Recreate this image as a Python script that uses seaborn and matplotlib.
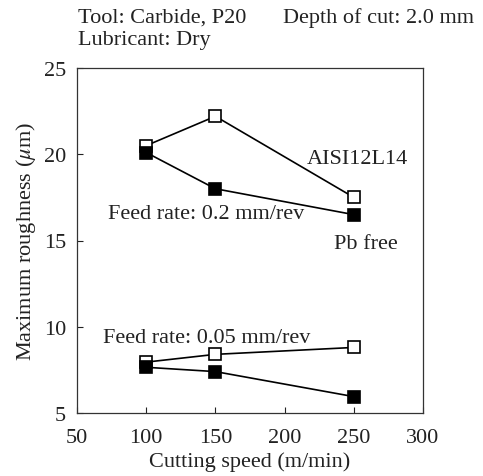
import matplotlib
matplotlib.use("Agg")
import matplotlib.pyplot as plt
import seaborn as sns
import pandas as pd

speeds = [100, 150, 250]
aisi_02 = [20.5, 22.2, 17.5]
pbfree_02 = [20.1, 18.0, 16.5]
aisi_005 = [7.95, 8.4, 8.8]
pbfree_005 = [7.65, 7.4, 5.95]
x_ticks = [50, 100, 150, 200, 250, 300]
y_ticks = [5, 10, 15, 20, 25]

sns.set_style("ticks")
plt.rcParams['font.family'] = ['Liberation Serif', 'DejaVu Serif']
plt.rcParams['mathtext.fontset'] = 'stix'

fig = plt.figure(figsize=(4.83, 4.77), dpi=100)
W, H = 483, 477
ax = fig.add_axes([77 / W, 1 - 414 / H, 346 / W, 345 / H])

series = [
    (aisi_02, "white"),
    (pbfree_02, "black"),
    (aisi_005, "white"),
    (pbfree_005, "black"),
]
for vals, fc in series:
    df = pd.DataFrame({"speed": speeds, "rough": vals})
    sns.lineplot(data=df, x="speed", y="rough", ax=ax, color="black",
                 linewidth=1.2, marker="s", markersize=8.5,
                 markerfacecolor=fc, markeredgecolor="black",
                 markeredgewidth=1.2)

fs = 16
tc = "#222222"
ax.set_xlim(50, 300)
ax.set_ylim(5, 25)
ax.set_xticks(x_ticks)
ax.set_yticks(y_ticks)
ax.tick_params(direction="in", length=4, width=0.8, labelsize=fs,
               colors="#222222", labelcolor=tc)
ax.tick_params(axis="x", pad=11)
ax.tick_params(axis="y", pad=8)
for s in ax.spines.values():
    s.set_linewidth(0.9)
    s.set_color("#333333")
ax.set_xlabel("Cutting speed (m/min)", fontsize=fs, color=tc, labelpad=3)
ax.set_ylabel(r"Maximum roughness ($\mu$m)", fontsize=fs, color=tc, labelpad=4)
for lbl in ax.get_yticklabels():
    lbl.set_verticalalignment("center_baseline")

ax.text(216, 19.75, "AISI12L14", fontsize=fs, color=tc, va="center", ha="left")
ax.text(236, 14.85, "Pb free", fontsize=fs, color=tc, va="center", ha="left")
ax.text(72.5, 16.55, "Feed rate: 0.2 mm/rev", fontsize=fs, color=tc, va="center", ha="left")
ax.text(68.8, 9.35, "Feed rate: 0.05 mm/rev", fontsize=fs, color=tc, va="center", ha="left")

fig.text(78 / W, 1 - 18 / H, "Tool: Carbide, P20", fontsize=fs, color=tc, va="center", ha="left")
fig.text(283 / W, 1 - 18 / H, "Depth of cut: 2.0 mm", fontsize=fs, color=tc, va="center", ha="left")
fig.text(78 / W, 1 - 40 / H, "Lubricant: Dry", fontsize=fs, color=tc, va="center", ha="left")

fig.savefig("out.png", dpi=100)
